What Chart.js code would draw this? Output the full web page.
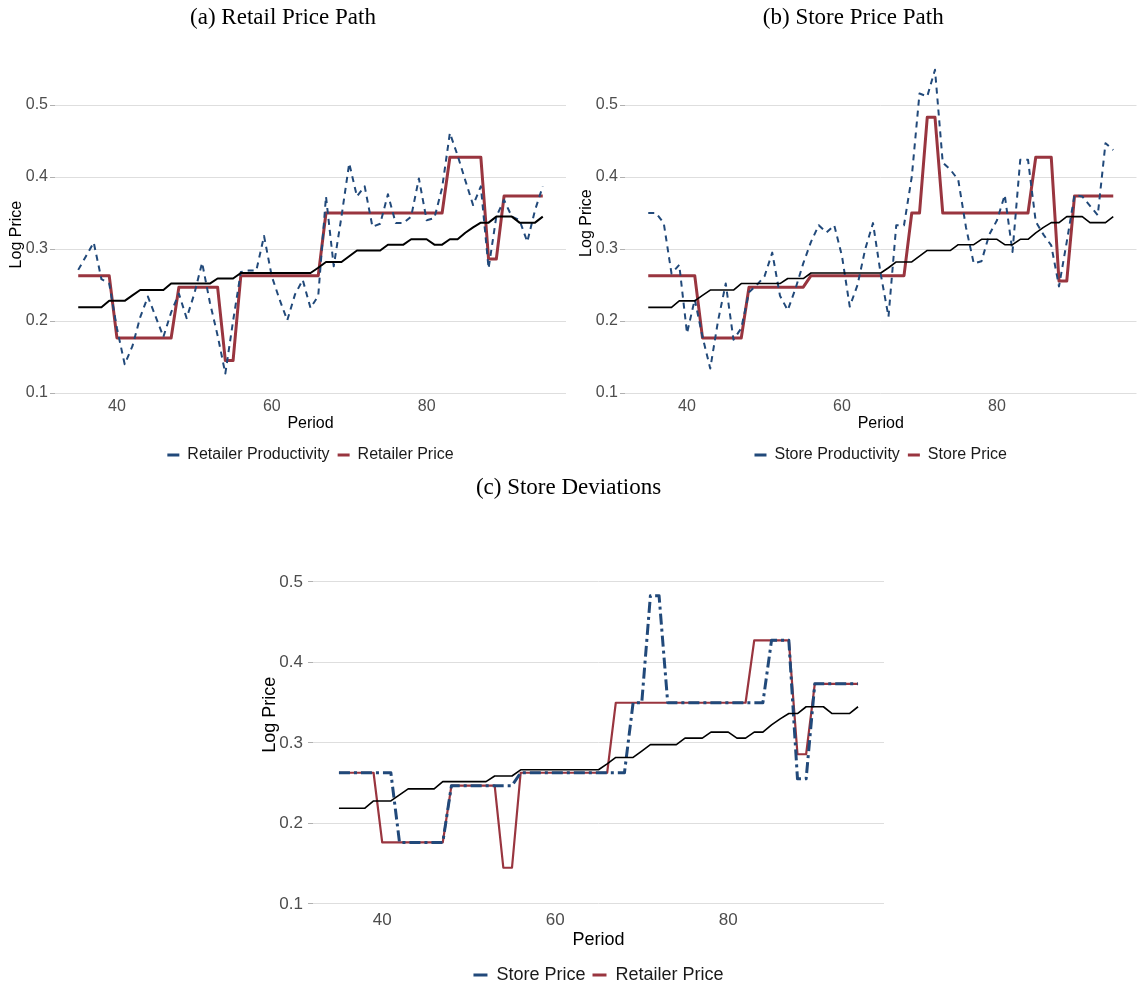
<!DOCTYPE html>
<html>
<head>
<meta charset="utf-8">
<script src="https://cdn.jsdelivr.net/npm/chart.js@4.4.1/dist/chart.umd.min.js"></script>
<style>
  html, body { margin: 0; padding: 0; background: #fff; overflow: hidden; }
  canvas { position: absolute; }
</style>
</head>
<body>
<canvas id="chartA" width="570" height="473" style="left:0;top:0;width:570px;height:473px"></canvas>
<canvas id="chartB" width="568" height="473" style="left:570px;top:0;width:568px;height:473px"></canvas>
<canvas id="chartC" width="640" height="534" style="left:253px;top:460px;width:640px;height:534px"></canvas>
<script>
// periods on the x axis
const periods = [35, 36, 37, 38, 39, 40, 41, 42, 43, 44,
  45, 46, 47, 48, 49, 50, 51, 52, 53, 54,
  55, 56, 57, 58, 59, 60, 61, 62, 63, 64,
  65, 66, 67, 68, 69, 70, 71, 72, 73, 74,
  75, 76, 77, 78, 79, 80, 81, 82, 83, 84,
  85, 86, 87, 88, 89, 90, 91, 92, 93, 94, 95];

// black reference line (same in every panel)
const productivity = [0.219, 0.219, 0.219, 0.219, 0.228, 0.228, 0.228, 0.2355, 0.243, 0.243,
  0.243, 0.243, 0.252, 0.252, 0.252, 0.252, 0.252, 0.252, 0.259, 0.259,
  0.259, 0.2667, 0.2667, 0.2667, 0.2667, 0.2667, 0.2667, 0.2667, 0.2667, 0.2667,
  0.2667, 0.274, 0.282, 0.282, 0.282, 0.290, 0.298, 0.298, 0.298, 0.298,
  0.306, 0.306, 0.306, 0.3135, 0.3135, 0.3135, 0.306, 0.306, 0.3135, 0.3135,
  0.3225, 0.330, 0.3366, 0.3366, 0.345, 0.345, 0.345, 0.3366, 0.3366, 0.3366, 0.345];

const retailerProductivity = [0.271, 0.290, 0.309, 0.258, 0.252, 0.190, 0.140, 0.165, 0.205, 0.234,
  0.206, 0.178, 0.212, 0.238, 0.204, 0.238, 0.281, 0.226, 0.180, 0.127,
  0.200, 0.268, 0.270, 0.270, 0.318, 0.262, 0.230, 0.201, 0.237, 0.257,
  0.218, 0.235, 0.373, 0.276, 0.345, 0.419, 0.373, 0.387, 0.331, 0.335,
  0.376, 0.336, 0.336, 0.345, 0.398, 0.340, 0.343, 0.385, 0.461, 0.430,
  0.395, 0.361, 0.387, 0.273, 0.345, 0.368, 0.345, 0.340, 0.310, 0.354, 0.387];

const retailerPrice = [0.263, 0.263, 0.263, 0.263, 0.263, 0.1765, 0.1765, 0.1765, 0.1765, 0.1765,
  0.1765, 0.1765, 0.1765, 0.247, 0.247, 0.247, 0.247, 0.247, 0.247, 0.145,
  0.145, 0.263, 0.263, 0.263, 0.263, 0.263, 0.263, 0.263, 0.263, 0.263,
  0.263, 0.263, 0.350, 0.350, 0.350, 0.350, 0.350, 0.350, 0.350, 0.350,
  0.350, 0.350, 0.350, 0.350, 0.350, 0.350, 0.350, 0.350, 0.4275, 0.4275,
  0.4275, 0.4275, 0.4275, 0.286, 0.286, 0.3735, 0.3735, 0.3735, 0.3735, 0.3735, 0.3735];

const storeProductivity = [0.350, 0.350, 0.336, 0.266, 0.278, 0.183, 0.230, 0.178, 0.134, 0.200,
  0.252, 0.174, 0.190, 0.240, 0.250, 0.262, 0.295, 0.235, 0.215, 0.245,
  0.280, 0.310, 0.333, 0.323, 0.333, 0.290, 0.220, 0.250, 0.300, 0.336,
  0.265, 0.206, 0.333, 0.333, 0.400, 0.516, 0.512, 0.549, 0.420, 0.410,
  0.396, 0.330, 0.280, 0.283, 0.320, 0.340, 0.375, 0.296, 0.424, 0.424,
  0.338, 0.320, 0.305, 0.248, 0.310, 0.375, 0.373, 0.360, 0.347, 0.447, 0.4375];

const storePrice = [0.263, 0.263, 0.263, 0.263, 0.263, 0.263, 0.263, 0.1765, 0.1765, 0.1765,
  0.1765, 0.1765, 0.1765, 0.247, 0.247, 0.247, 0.247, 0.247, 0.247, 0.247,
  0.247, 0.263, 0.263, 0.263, 0.263, 0.263, 0.263, 0.263, 0.263, 0.263,
  0.263, 0.263, 0.263, 0.263, 0.350, 0.350, 0.483, 0.483, 0.350, 0.350,
  0.350, 0.350, 0.350, 0.350, 0.350, 0.350, 0.350, 0.350, 0.350, 0.350,
  0.4275, 0.4275, 0.4275, 0.2555, 0.2555, 0.3735, 0.3735, 0.3735, 0.3735, 0.3735, 0.3735];

const yTicks = [0.1, 0.2, 0.3, 0.4, 0.5];
const xTicks = [40, 60, 80];

const BLUE = '#21497a';
const RED = '#99353f';
const BLACK = '#000000';
const SANS = "'Liberation Sans', Arial, sans-serif";
const SERIF = "'Liberation Serif', 'Times New Roman', serif";

function points(values) {
  return periods.map((p, i) => ({ x: p, y: values[i] }));
}

function buildChart(id, o) {
  const ctx = document.getElementById(id).getContext('2d');
  new Chart(ctx, {
    type: 'line',
    data: { datasets: o.datasets },
    options: {
      responsive: false,
      animation: false,
      events: [],
      layout: { padding: { left: 0, right: o.padRight, top: 0, bottom: 0 } },
      elements: {
        point: { radius: 0, hoverRadius: 0 },
        line: { tension: 0, borderCapStyle: 'butt', borderJoinStyle: 'round' }
      },
      plugins: {
        title: {
          display: true,
          text: o.title,
          color: '#000',
          font: { family: SERIF, size: 23, weight: 'normal' },
          padding: o.titlePad
        },
        legend: {
          position: 'bottom',
          fullSize: false,
          labels: {
            usePointStyle: true,
            pointStyle: 'line',
            pointStyleWidth: o.keyWidth,
            padding: o.legendPad,
            color: '#1a1a1a',
            font: { family: SANS, size: o.legendSize },
            generateLabels: chart => chart.data.datasets
              .map((ds, i) => ({
                text: ds.label,
                strokeStyle: ds.borderColor,
                fillStyle: ds.borderColor,
                fontColor: '#1a1a1a',
                lineWidth: 3,
                lineDash: [],
                pointStyle: 'line',
                hidden: false,
                datasetIndex: i
              }))
              .filter(item => item.text)
          }
        },
        tooltip: { enabled: false }
      },
      scales: {
        x: {
          type: 'linear',
          min: 32,
          max: 98,
          afterBuildTicks: s => { s.ticks = xTicks.map(v => ({ value: v })); },
          afterFit: s => { s.height = o.xHeight; },
          grid: { display: false, drawTicks: false },
          border: { display: false },
          ticks: { color: '#4d4d4d', padding: o.xTickPad, font: { family: SANS, size: o.tickSize } },
          title: {
            display: true,
            text: 'Period',
            color: '#000',
            font: { family: SANS, size: o.axisSize },
            padding: { top: 0, bottom: o.xTitlePad }
          }
        },
        y: {
          min: 0.095,
          max: o.yMax,
          afterBuildTicks: s => { s.ticks = yTicks.map(v => ({ value: v })); },
          afterFit: s => { s.width = o.yWidth; },
          grid: { color: '#dedede', lineWidth: 1, drawTicks: true, tickLength: 5, tickColor: '#b0b0b0' },
          border: { display: false },
          ticks: {
            color: '#4d4d4d',
            padding: o.yTickPad,
            font: { family: SANS, size: o.tickSize },
            callback: v => v.toFixed(1)
          },
          title: {
            display: true,
            text: 'Log Price',
            color: '#000',
            font: { family: SANS, size: o.axisSize },
            padding: { top: o.yTitlePad, bottom: 0 }
          }
        }
      }
    }
  });
}

// (a) retailer
buildChart('chartA', {
  title: '(a) Retail Price Path',
  datasets: [
    { label: '', data: points(productivity), borderColor: BLACK, borderWidth: 2 },
    { label: 'Retailer Productivity', data: points(retailerProductivity), borderColor: BLUE, borderWidth: 2, borderDash: [6, 5] },
    { label: 'Retailer Price', data: points(retailerPrice), borderColor: RED, borderWidth: 3 }
  ],
  padRight: 4, yMax: 0.545, titlePad: { top: 4.2, bottom: 40.8 },
  xHeight: 42.4, xTickPad: 0, xTitlePad: 5.4, yWidth: 55, yTickPad: 2, yTitlePad: 7.4,
  tickSize: 16, axisSize: 16, legendSize: 16, legendPad: 8, keyWidth: 12
});

// (b) store
buildChart('chartB', {
  title: '(b) Store Price Path',
  datasets: [
    { label: '', data: points(productivity), borderColor: BLACK, borderWidth: 1.6 },
    { label: 'Store Productivity', data: points(storeProductivity), borderColor: BLUE, borderWidth: 2, borderDash: [6, 5] },
    { label: 'Store Price', data: points(storePrice), borderColor: RED, borderWidth: 3 }
  ],
  padRight: 1.5, yMax: 0.577, titlePad: { top: 4.2, bottom: 17.8 },
  xHeight: 42.4, xTickPad: 0, xTitlePad: 5.4, yWidth: 55, yTickPad: 2, yTitlePad: 7.4,
  tickSize: 16, axisSize: 16, legendSize: 16, legendPad: 8, keyWidth: 12
});

// (c) store vs retailer
buildChart('chartC', {
  title: '(c) Store Deviations',
  datasets: [
    { label: '', data: points(productivity), borderColor: BLACK, borderWidth: 1.6 },
    { label: 'Store Price', data: points(storePrice), borderColor: BLUE, borderWidth: 3, borderDash: [11, 4, 3, 4] },
    { label: 'Retailer Price', data: points(retailerPrice), borderColor: RED, borderWidth: 2.2 }
  ],
  padRight: 9, yMax: 0.575, titlePad: { top: 14.2, bottom: 19.8 },
  xHeight: 51, xTickPad: 2, xTitlePad: 8.2, yWidth: 60, yTickPad: 5, yTitlePad: 6.2,
  tickSize: 17, axisSize: 18, legendSize: 18, legendPad: 7, keyWidth: 14
});
</script>
</body>
</html>
